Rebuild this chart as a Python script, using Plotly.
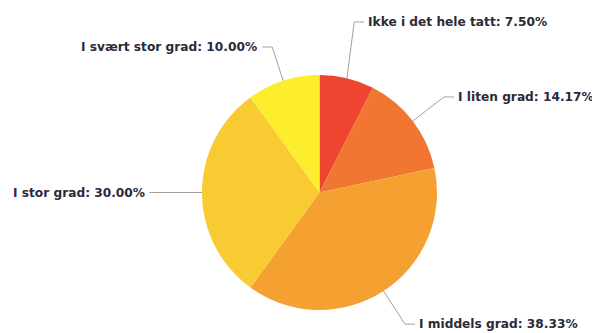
import math
import plotly.graph_objects as go

# Data
categories = ["Ikke i det hele tatt", "I liten grad", "I middels grad", "I stor grad", "I svært stor grad"]
values = [7.50, 14.17, 38.33, 30.00, 10.00]

# Style
colors = ["#EE4530", "#F07631", "#F4A131", "#F8CB33", "#FCEE2D"]
elbow_r = [174, 157, 157, 160, 153]      # connector elbow radius (px)
elbow_da = [-2.0, 0.0, 0.0, 0.0, 0.0]    # connector elbow angle tweak (deg)
W, H = 600, 333
OFF = 8  # page body margin in the browser
CX, CY, R = 319.5 - OFF, 192.5 - OFF, 117.5

fig = go.Figure(go.Pie(
    labels=categories, values=values, sort=False, direction="clockwise",
    rotation=0, textinfo="none", hoverinfo="label+percent",
    marker=dict(colors=colors, line=dict(width=0)),
    domain=dict(x=[(CX - R) / W, (CX + R) / W], y=[(H - CY - R) / H, (H - CY + R) / H]),
    showlegend=False,
))

def px2paper(x, y):
    return x / W, 1 - y / H

total = sum(values)
cum = 0.0
shapes, annotations = [], []
for cat, v, er, da in zip(categories, values, elbow_r, elbow_da):
    mid = (cum + v / 2) / total * 2 * math.pi
    cum += v
    ea = mid + math.radians(da)
    sx, sy = CX + R * math.sin(mid), CY - R * math.cos(mid)
    ex, ey = CX + er * math.sin(ea), CY - er * math.cos(ea)
    right = math.sin(mid) >= 0
    hx = ex + (10 if right else -10)
    pts = [px2paper(sx, sy), px2paper(ex, ey), px2paper(hx, ey)]
    path = "M {} {} L {} {} L {} {}".format(*[c for p in pts for c in p])
    shapes.append(dict(type="path", xref="paper", yref="paper", path=path,
                       line=dict(color="#A0A0A0", width=1)))
    tx, ty = px2paper(hx + (2 if right else -3), ey)
    annotations.append(dict(
        x=tx, y=ty, xref="paper", yref="paper", showarrow=False,
        xanchor="left" if right else "right", yanchor="middle",
        text=f"{cat}: {v:.2f}%",
        font=dict(family="DejaVu Sans", size=12.2, color="#2a2a3a", weight="bold"),
    ))

fig.update_layout(
    width=W, height=H, margin=dict(l=0, r=0, t=0, b=0),
    paper_bgcolor="white", plot_bgcolor="white",
    shapes=shapes, annotations=annotations,
)
fig.write_html("out.html")
